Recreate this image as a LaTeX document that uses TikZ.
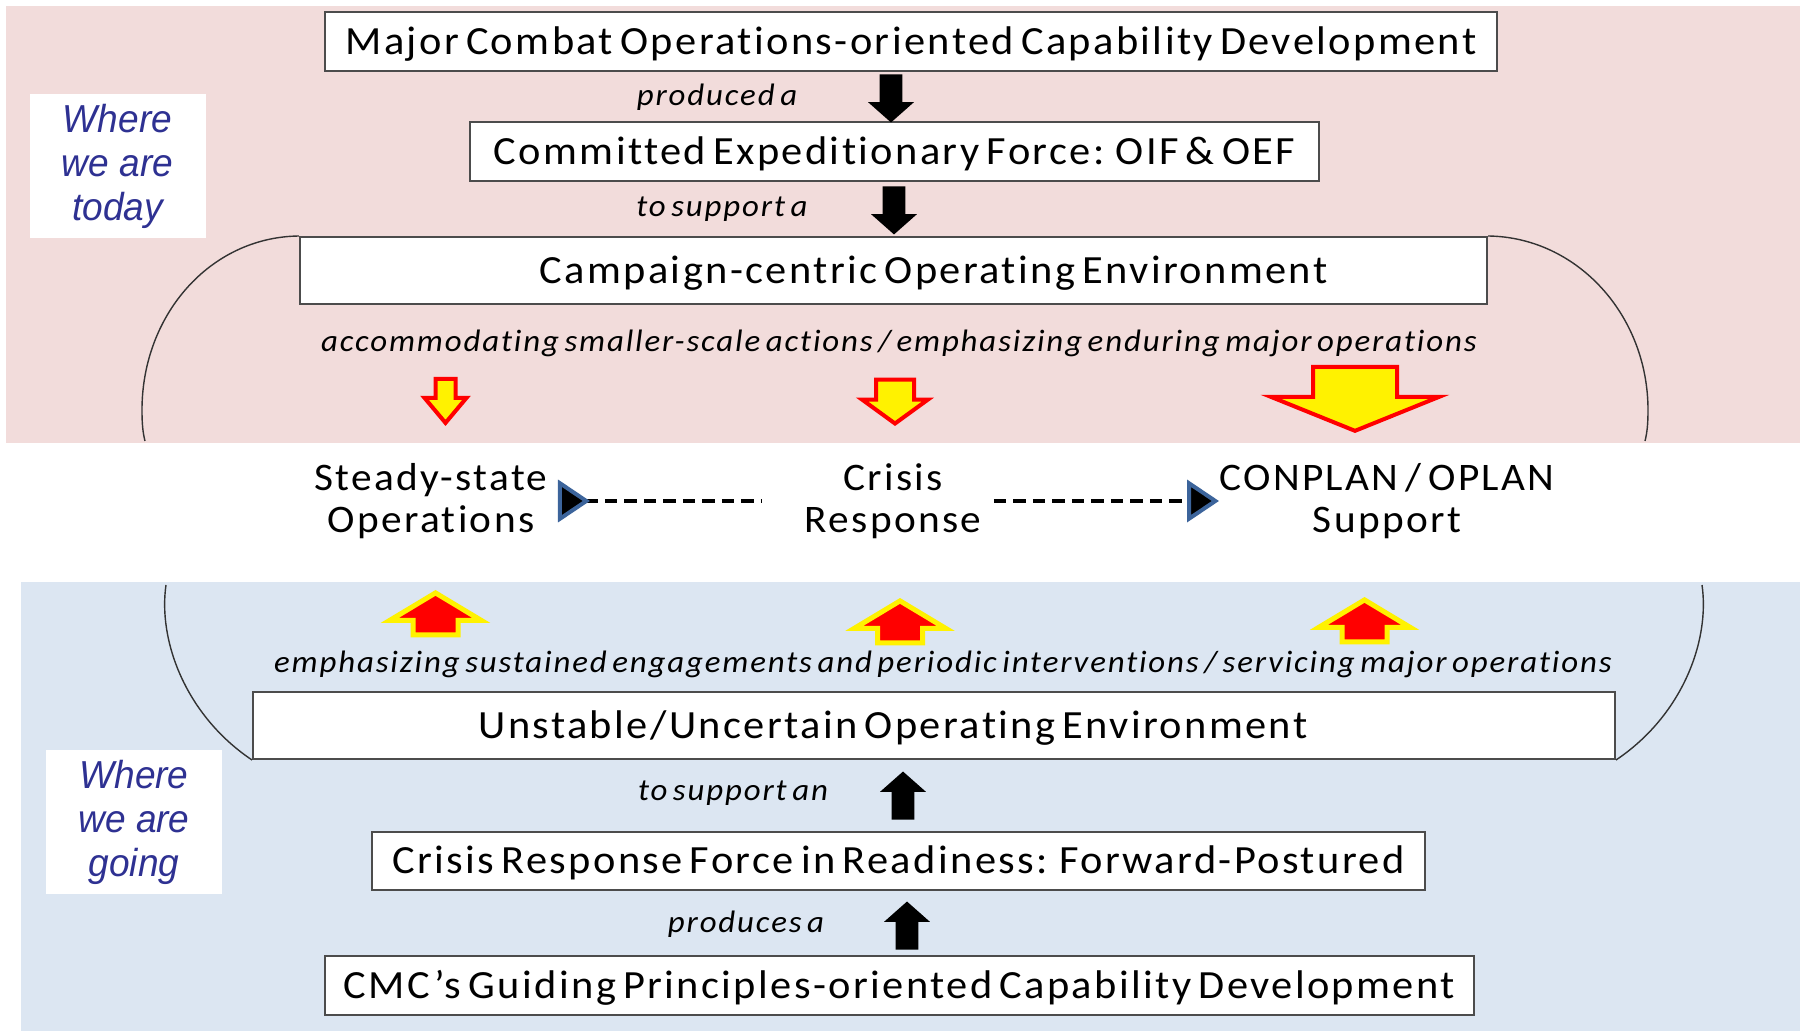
\documentclass[tikz,border=0pt]{standalone}
\usepackage{fontspec}
\setmainfont{Carlito}
\newfontfamily\capfont[FakeStretch=1.06,LetterSpace=6,WordSpace=0.6,Ligatures=NoCommon]{Carlito}
\newfontfamily\wherefont[FakeStretch=0.95]{Liberation Sans}
\usepackage{tikz}
\usetikzlibrary{positioning}
\usetikzlibrary{shapes.arrows,arrows.meta}

\definecolor{todaypink}{RGB}{242,220,219}
\definecolor{goingblue}{RGB}{220,230,242}
\definecolor{whereblue}{RGB}{46,49,146}
\definecolor{tipblue}{RGB}{60,100,155}

\tikzset{
	capbox/.style={draw=black!70, line width=1pt, fill=white, inner sep=0pt, text depth=1pt,
		font=\capfont\fontsize{20}{22}\selectfont},
	steplabel/.style={inner sep=0pt, anchor=base,
		font=\capfont\itshape\fontsize{15.5}{18}\selectfont},
	midlabel/.style={inner sep=0pt, align=center,
		font=\capfont\fontsize{19.5}{21}\selectfont},
	wherebox/.style={fill=white, inner sep=0pt, align=center, text=whereblue,
		minimum width=88pt, minimum height=72pt,
		font=\wherefont\itshape\fontsize{19.5}{22}\selectfont},
	blockarrow/.style={single arrow, inner sep=0pt, anchor=tip},
	blackarrow/.style={blockarrow, fill=black, inner ysep=5.5pt,
		single arrow head extend=5.75pt, minimum height=24pt,
		single arrow tip angle=97},
	todayarrow/.style={blockarrow, fill=yellow, draw=red, line width=2pt, rotate=-90},
	goingarrow/.style={blockarrow, fill=red, draw=yellow, line width=2.5pt, rotate=90,
		inner ysep=10pt, single arrow head extend=11.5pt, minimum height=21pt,
		single arrow tip angle=118},
	envarc/.style={black!80, line width=0.7pt},
	linkdash/.style={line width=1.65pt, dash pattern=on 6.25pt off 3.5pt},
}

\begin{document}
\begin{tikzpicture}[x=0.5pt, y=-0.5pt]
	
	% ------------------------------------------------
	% Size of the picture and the two bands
	\useasboundingbox (0,0) rectangle (1800,1031);
	\fill[white] (0,0) rectangle (1800,1031);
	\fill[todaypink] (6,6) rectangle (1800,443);
	\fill[goingblue] (21,582) rectangle (1800,1031);
	
	% ------------------------------------------------
	% Free ends of the arcs
	\coordinate (TopArcL) at (145,441);
	\coordinate (TopArcR) at (1645,441);
	\coordinate (LowArcL) at (166,585);
	\coordinate (LowArcR) at (1702,585);
	
	% ----------------
	% Boxes, today
	\node[capbox, minimum width=586pt, minimum height=29.5pt] (majorcap) at (911,41.5)
		{Major Combat Operations-oriented Capability Development};
	\node[capbox, minimum width=424.5pt, minimum height=29.5pt] (expforce) at (894.5,152)
		{Committed Expeditionary Force: OIF \& OEF};
	\node[capbox, minimum width=593.5pt, minimum height=33.5pt] (campenv) at (893.5,270.5)
		{\hspace*{40pt}Campaign-centric Operating Environment};
	
	% ----------------
	% Boxes, going
	\node[capbox, minimum width=681pt, minimum height=33.5pt] (unstenv) at (934,725.5)
		{Unstable/Uncertain Operating Environment\hspace*{41pt}};
	\node[capbox, minimum width=526.5pt, minimum height=29pt] (crisforce) at (898.5,860.5)
		{Crisis Response Force in Readiness: Forward-Postured};
	\node[capbox, minimum width=574.5pt, minimum height=29.5pt] (cmccap) at (899.5,985.5)
		{CMC’s Guiding Principles-oriented Capability Development};
	
	% ----------------
	% Arcs round the environments
	\draw[envarc] (campenv.north west) .. controls (210,237) and (142,315) .. (142,410)
		.. controls (142,425) and (143,433) .. (TopArcL);
	\draw[envarc] (campenv.north east) .. controls (1577,237) and (1648,315) .. (1648,410)
		.. controls (1648,425) and (1647,433) .. (TopArcR);
	\draw[envarc] (unstenv.south west) .. controls (185,715) and (158,640) .. (LowArcL);
	\draw[envarc] (unstenv.south east) .. controls (1683,715) and (1710,640) .. (LowArcR);
	
	% ----------------
	% Where we are
	\node[wherebox] (todaylbl) at (117.5,166) {Where\\we are\\today};
	\node[wherebox] (goinglbl) at (134,822) {Where\\we are\\going};
	
	% ----------------
	% Black arrows and their words
	\node[blackarrow, rotate=-90] (downA) at (891,123) {};
	\node[blackarrow, rotate=-90] (downB) at (894,235) {};
	\node[blackarrow, rotate=90] (upA) at (903,771) {};
	\node[blackarrow, rotate=90] (upB) at (907,901) {};
	
	\node[steplabel] (lblproduced) at (717,106) {produced a};
	\node[steplabel] (lblsupporta) at (722,217) {to support a};
	\node[steplabel] (lblsupportan) at (733,800) {to support an};
	\node[steplabel] (lblproduces) at (746,932) {produces a};
	
	\node[steplabel] (lblaccommod) at (899,352)
		{accommodating smaller-scale actions / emphasizing enduring major operations};
	\node[steplabel] (lblemphasize) at (943,673)
		{emphasizing sustained engagements and periodic interventions / servicing major operations};
	
	% ----------------
	% Coloured arrows
	\node[todayarrow, inner ysep=4pt, single arrow head extend=5.5pt,
		minimum height=22pt, single arrow tip angle=80] (warnS) at (445.5,426) {};
	\node[todayarrow, inner ysep=8.5pt, single arrow head extend=7pt,
		minimum height=22pt, single arrow tip angle=108] (warnC) at (895,426) {};
	\node[todayarrow, inner ysep=20pt, single arrow head extend=21pt,
		minimum height=32pt, single arrow tip angle=136] (warnP) at (1355,433) {};
	
	\node[goingarrow] (riseS) at (435.5,590) {};
	\node[goingarrow] (riseC) at (900,598) {};
	\node[goingarrow] (riseP) at (1364.5,597) {};
	
	% ------------------------------------------------
	% Kinds of operation
	\node[midlabel] (steady) at (431,501) {Steady-state\\Operations};
	\node[midlabel] (crisis) at (893,501) {Crisis\\Response};
	\node[midlabel] (conplan) at (1387,501) {CONPLAN / OPLAN\\Support};
	
	\draw[linkdash, {Triangle[reversed, length=16pt, width=21pt, fill=black, color=tipblue, line width=2pt]}-,
		shorten <=5pt, shorten >=21.5pt] (steady.east) -- (crisis.west);
	\draw[linkdash, -{Triangle[length=16pt, width=21pt, fill=black, color=tipblue, line width=2pt]},
		shorten <=6pt] (crisis.east) -- (conplan.west);
	
\end{tikzpicture}
\end{document}
